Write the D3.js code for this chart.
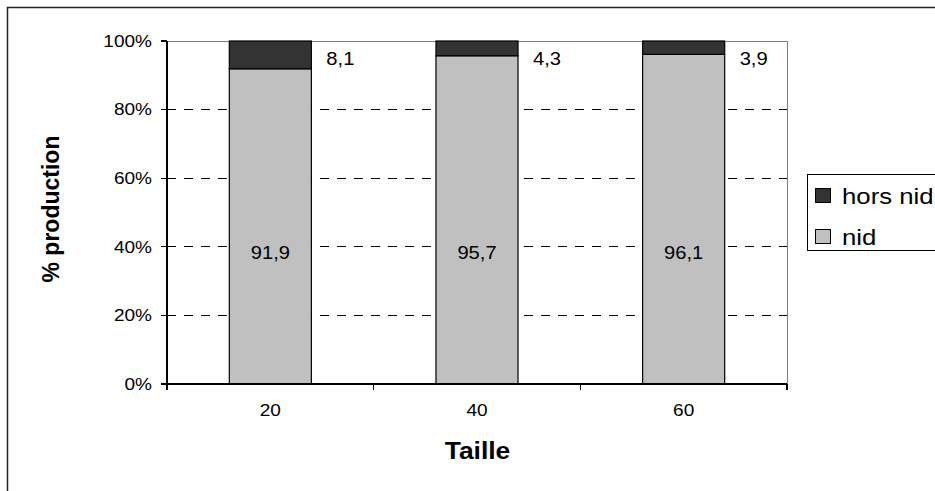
<!DOCTYPE html>
<html><head><meta charset="utf-8">
<script src="https://cdn.jsdelivr.net/npm/d3@7"></script>
<style>html,body{margin:0;padding:0;background:#fff;overflow:hidden}</style>
</head><body>
<script>
const categories = ["20", "40", "60"];
const nidValues = [91.9, 95.7, 96.1];
const horsNidValues = [8.1, 4.3, 3.9];
const nidLabels = ["91,9", "95,7", "96,1"];
const horsNidLabels = ["8,1", "4,3", "3,9"];
const yTicks = [0, 0.2, 0.4, 0.6, 0.8, 1.0];
const seriesNames = ["hors nid", "nid"];
const seriesColors = ["#333333", "#c0c0c0"];

const W = 935, H = 491;
const FONT = "'Liberation Sans', Arial, sans-serif";
const SX = 1.12;
const svg = d3.select("body").append("svg").attr("width", W).attr("height", H);
svg.append("rect").attr("width", W).attr("height", H).attr("fill", "#fff");
// outer chart border (extends past the window)
svg.append("rect").attr("x", 7.5).attr("y", 7.5).attr("width", W + 20).attr("height", H + 20)
  .attr("fill", "none").attr("stroke", "#222").attr("stroke-width", 1.5);

const pLeft = 167, pRight = 787, pTop = 41, pBottom = 384;
const x = d3.scaleBand().domain(categories).range([pLeft, pRight]).paddingInner(0.603).paddingOuter(0.3015);
const y = d3.scaleLinear().domain([0, 1]).range([pBottom, pTop]);

function txt(g, px, py, s, size, anchor, weight, sx) {
  return g.append("text").attr("transform", `translate(${px},${py}) scale(${sx || SX},1)`)
    .attr("text-anchor", anchor || "start").attr("font-family", FONT)
    .attr("font-size", size).attr("font-weight", weight || "normal").attr("fill", "#000").text(s);
}

// gridlines
svg.append("g").selectAll("line").data(yTicks.filter(d => d > 0 && d < 1)).join("line")
  .attr("x1", pLeft).attr("x2", pRight).attr("y1", d => y(d)).attr("y2", d => y(d))
  .attr("stroke", "#000").attr("stroke-width", 1).attr("stroke-dasharray", "9,8").attr("shape-rendering", "crispEdges");
// plot area border top/right (grey)
svg.append("path").attr("d", `M${pLeft},${y(1)}H${pRight}V${y(0)}`).attr("fill", "none")
  .attr("stroke", "#808080").attr("stroke-width", 1).attr("shape-rendering", "crispEdges");

// bars
const g = svg.append("g");
categories.forEach((c, i) => {
  const nid = nidValues[i] / 100, hn = horsNidValues[i] / 100;
  g.append("rect").attr("x", x(c)).attr("width", x.bandwidth()).attr("y", y(nid)).attr("height", y(0) - y(nid))
    .attr("fill", seriesColors[1]).attr("stroke", "#000").attr("stroke-width", 1.2);
  g.append("rect").attr("x", x(c)).attr("width", x.bandwidth()).attr("y", y(nid + hn)).attr("height", y(nid) - y(nid + hn))
    .attr("fill", seriesColors[0]).attr("stroke", "#000").attr("stroke-width", 1.2);
  txt(svg, x(c) + x.bandwidth() / 2, y(0.363), nidLabels[i], 18, "middle");
  txt(svg, x(c) + x.bandwidth() / 2 + 70, y(0.93), horsNidLabels[i], 18, "middle");
});

// axes
const ax = svg.append("g").attr("stroke", "#000").attr("stroke-width", 1.2).attr("shape-rendering", "crispEdges");
ax.append("line").attr("x1", pLeft).attr("x2", pLeft).attr("y1", y(1)).attr("y2", y(0));
ax.append("line").attr("x1", pLeft).attr("x2", pRight).attr("y1", y(0)).attr("y2", y(0));
yTicks.forEach(t => {
  ax.append("line").attr("x1", pLeft - 6).attr("x2", pLeft).attr("y1", y(t)).attr("y2", y(t));
  txt(svg, pLeft - 15, y(t) + 5.8, d3.format(".0%")(t), 17, "end");
});
const step = x.step();
d3.range(categories.length + 1).forEach(i => {
  const px = pLeft + i * step;
  ax.append("line").attr("x1", px).attr("x2", px).attr("y1", y(0)).attr("y2", y(0) + 6);
});
categories.forEach(c => txt(svg, x(c) + x.bandwidth() / 2, 416, c, 17, "middle"));

// axis titles
txt(svg, 477.5, 459, "Taille", 23, "middle", "bold", 1.15);
svg.append("text").attr("transform", "translate(59,209) rotate(-90)").attr("text-anchor", "middle")
  .attr("font-family", FONT).attr("font-size", 23).attr("font-weight", "bold").text("% production");

// legend
const lg = svg.append("g");
lg.append("rect").attr("x", 807.5).attr("y", 174.5).attr("width", 200).attr("height", 76)
  .attr("fill", "#fff").attr("stroke", "#000").attr("stroke-width", 1);
seriesNames.forEach((n, i) => {
  const yy = 188 + i * 41;
  lg.append("rect").attr("x", 815.5).attr("y", yy + 0.5).attr("width", 15).attr("height", 14)
    .attr("fill", seriesColors[i]).attr("stroke", "#000").attr("stroke-width", 1);
  txt(lg, 842, yy + 15.5, n, 23, "start");
});
</script>
</body></html>
